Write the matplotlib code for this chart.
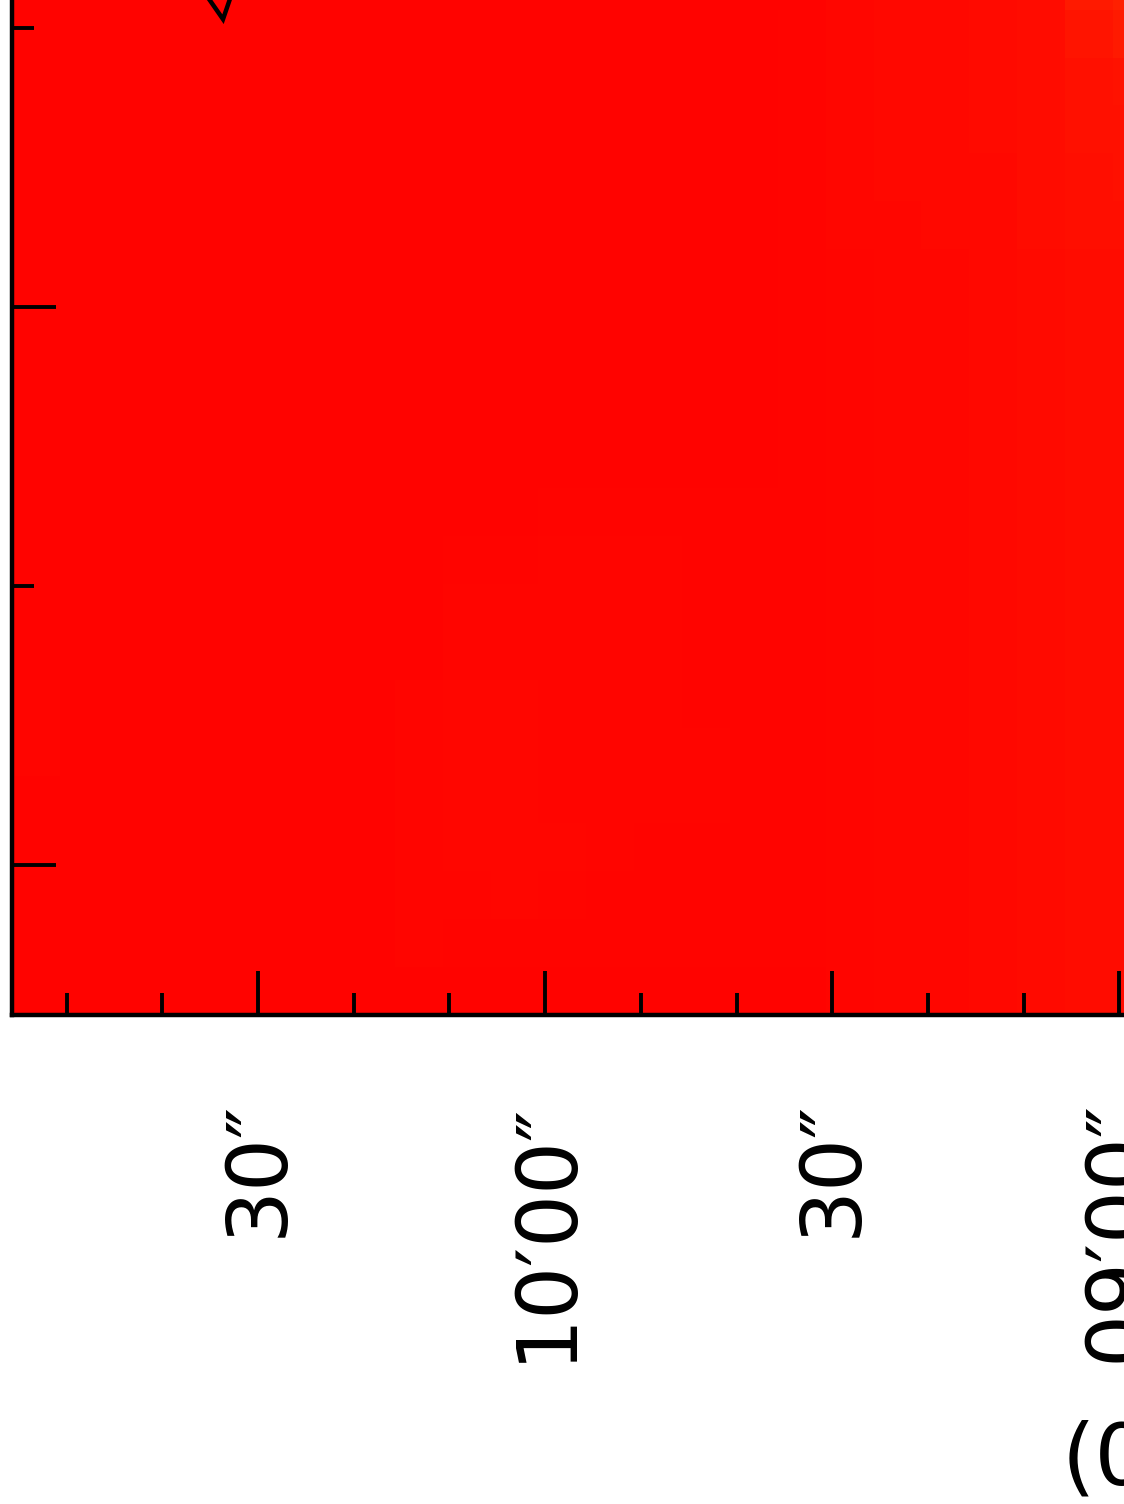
import matplotlib
matplotlib.use("Agg")
import matplotlib.pyplot as plt
import matplotlib.ticker as mt
from matplotlib.colors import LinearSegmentedColormap
import numpy as np

# map values: green channel of each cell (0 = pure red), rows from top
cell_values = [
    [3, 3, 3, 3, 3, 3, 3, 3, 3, 3, 3, 3, 3, 3, 3, 3, 3, 6, 8, 8, 10, 12, 26, 32],
    [3, 3, 3, 3, 3, 3, 3, 3, 3, 3, 3, 3, 3, 3, 3, 3, 4, 6, 8, 8, 10, 12, 20, 26],
    [3, 3, 3, 3, 3, 3, 3, 3, 3, 3, 3, 3, 3, 3, 3, 3, 4, 6, 8, 8, 10, 12, 16, 18],
    [3, 3, 3, 3, 3, 3, 3, 3, 3, 3, 3, 3, 3, 3, 3, 3, 4, 6, 8, 8, 10, 12, 16, 16],
    [3, 3, 3, 3, 3, 3, 3, 3, 3, 3, 3, 3, 3, 3, 3, 3, 4, 6, 8, 8, 8, 12, 14, 16],
    [3, 3, 3, 3, 3, 3, 3, 3, 3, 3, 3, 3, 3, 3, 3, 3, 4, 6, 6, 8, 8, 12, 14, 14],
    [3, 3, 3, 3, 3, 3, 3, 3, 3, 3, 3, 3, 3, 3, 3, 3, 4, 5, 6, 6, 8, 10, 12, 12],
    [3, 3, 3, 3, 3, 3, 3, 3, 3, 3, 3, 3, 3, 3, 3, 3, 4, 5, 6, 6, 8, 10, 12, 12],
    [3, 3, 3, 3, 3, 3, 3, 3, 3, 3, 3, 3, 3, 3, 3, 3, 4, 5, 6, 6, 8, 10, 12, 12],
    [3, 3, 3, 3, 3, 3, 3, 3, 3, 3, 3, 3, 3, 3, 3, 3, 4, 5, 6, 6, 8, 10, 12, 12],
    [3, 3, 3, 3, 3, 3, 3, 3, 3, 3, 3, 3, 3, 3, 3, 3, 4, 5, 6, 6, 8, 10, 12, 12],
    [3, 3, 3, 3, 3, 3, 3, 3, 3, 3, 3, 4, 4, 4, 4, 4, 4, 5, 6, 6, 8, 10, 12, 12],
    [3, 3, 3, 3, 3, 3, 3, 3, 3, 4, 4, 5, 5, 5, 4, 4, 4, 5, 6, 6, 8, 10, 12, 12],
    [3, 3, 3, 3, 3, 3, 3, 3, 3, 5, 5, 5, 5, 5, 4, 4, 4, 5, 6, 6, 8, 10, 12, 12],
    [3, 3, 3, 3, 3, 3, 3, 3, 3, 5, 5, 5, 5, 5, 4, 4, 4, 5, 6, 6, 8, 10, 12, 12],
    [5, 3, 3, 3, 3, 3, 3, 3, 5, 6, 6, 5, 5, 5, 4, 4, 4, 5, 6, 6, 8, 10, 12, 12],
    [5, 3, 3, 3, 3, 3, 3, 3, 5, 6, 6, 5, 5, 5, 5, 4, 4, 5, 6, 6, 8, 10, 12, 12],
    [3, 3, 3, 3, 3, 3, 3, 3, 5, 6, 6, 5, 5, 5, 5, 4, 4, 5, 6, 6, 8, 10, 12, 12],
    [3, 3, 3, 3, 3, 3, 3, 3, 5, 6, 6, 6, 5, 4, 4, 4, 4, 5, 6, 6, 8, 10, 12, 12],
    [3, 3, 3, 3, 3, 3, 3, 3, 5, 5, 6, 5, 4, 4, 4, 4, 4, 5, 6, 6, 8, 10, 12, 12],
    [3, 3, 3, 3, 3, 3, 3, 3, 5, 4, 4, 4, 4, 4, 4, 4, 4, 5, 6, 6, 8, 10, 12, 12],
    [3, 3, 3, 3, 3, 3, 3, 3, 3, 3, 3, 3, 3, 3, 3, 3, 3, 5, 6, 6, 8, 10, 12, 12],
]

# map extent: offset in arcsec (x, decreasing to the right) and y units
x_left, x_right = 655.71, 535.71
y_bottom, y_top = -0.5376, 3.236

# contour piece near the top edge
contour_x = [637.2, 635.2, 633.66, 632.9, 632.1]
contour_y = [3.17, 3.108, 3.032, 3.108, 3.17]

def dms_label(v, pos):
    v = int(round(v))
    m, s = divmod(v, 60)
    if s == 0:
        return f"{m:02d}\u2032{s:02d}\u2033"
    return f"{s:02d}\u2033"

plt.rcParams['font.family'] = ['DejaVu Sans']
fig = plt.figure(figsize=(11.24, 15.04), dpi=100)
ax = fig.add_axes([12 / 1124, 489 / 1504, 1148.4 / 1124, 1052.7 / 1504])

cmap = LinearSegmentedColormap.from_list('redyel', ['#ff0000', '#ffff00'])
ax.imshow(np.array(cell_values), cmap=cmap, vmin=0, vmax=255,
          extent=(x_left, x_right, y_bottom, y_top),
          interpolation='nearest', aspect='auto', origin='upper')
ax.plot(contour_x, contour_y, color='black', lw=3.2, solid_joinstyle='miter')

ax.set_xlim(x_left, x_right)
ax.set_ylim(y_bottom, y_top)

ax.xaxis.set_major_locator(mt.MultipleLocator(30))
ax.xaxis.set_minor_locator(mt.MultipleLocator(10))
ax.xaxis.set_major_formatter(mt.FuncFormatter(dms_label))
ax.yaxis.set_major_locator(mt.MultipleLocator(2))
ax.yaxis.set_minor_locator(mt.MultipleLocator(1))

for s in ax.spines.values():
    s.set_linewidth(3.2)
ax.tick_params(which='both', direction='in', width=2.8, top=False, right=False)
ax.tick_params(which='major', length=32, pad=61)
ax.tick_params(which='minor', length=16)
ax.tick_params(axis='x', labelsize=60, labelrotation=90)
ax.tick_params(axis='y', labelleft=False)

fig.text(1062 / 1124, 19 / 1504, "(0", fontsize=62, ha='left', va='baseline')

fig.savefig('out.png', dpi=100)
